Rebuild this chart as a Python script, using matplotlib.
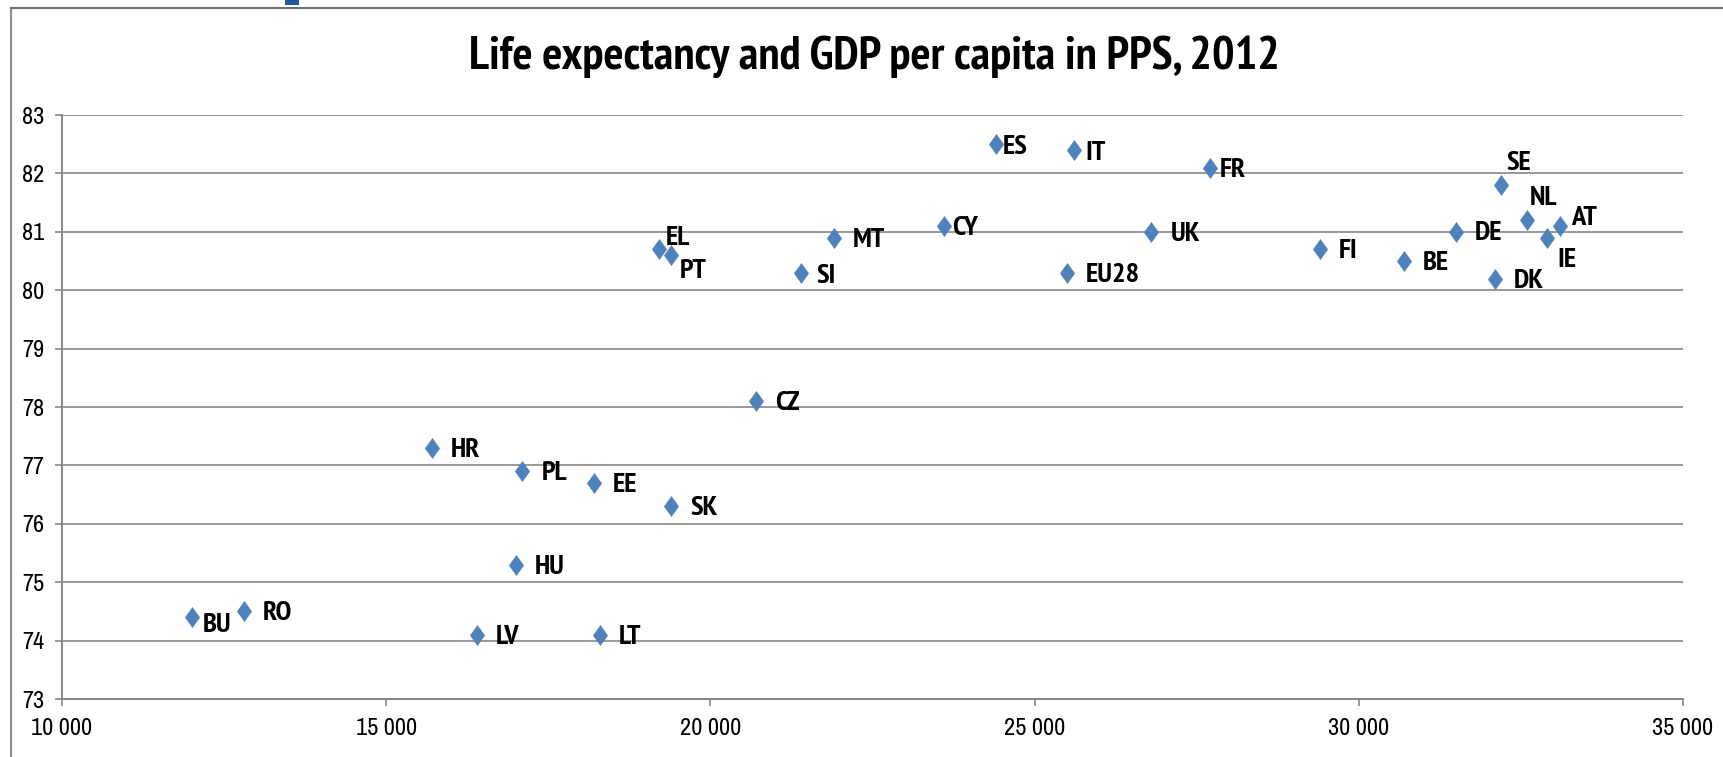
import matplotlib
matplotlib.use("Agg")
import matplotlib.pyplot as plt
from matplotlib.path import Path
from matplotlib.ticker import FuncFormatter, MultipleLocator
from matplotlib import font_manager as fm
import matplotlib.patches as mpatches
import matplotlib.lines as mlines

# ---- data ----
countries = ["BU", "RO", "LV", "LT", "HU", "HR", "PL", "EE", "SK", "CZ",
             "EL", "PT", "SI", "MT", "CY", "ES", "IT", "FR", "UK", "EU28",
             "FI", "BE", "DE", "DK", "SE", "NL", "IE", "AT"]
gdp_pps = [12000, 12800, 16400, 18300, 17000, 15700, 17100, 18200, 19400, 20700,
           19200, 19400, 21400, 21900, 23600, 24400, 25600, 27700, 26800, 25500,
           29400, 30700, 31500, 32100, 32200, 32600, 32900, 33100]
life_exp = [74.4, 74.5, 74.1, 74.1, 75.3, 77.3, 76.9, 76.7, 76.3, 78.1,
            80.7, 80.6, 80.3, 80.9, 81.1, 82.5, 82.4, 82.1, 81.0, 80.3,
            80.7, 80.5, 81.0, 80.2, 81.8, 81.2, 80.9, 81.1]
title = "Life expectancy and GDP per capita in PPS, 2012"

# label offsets (pixels, dx right, dy up) -- styling only
default_off = (19, -2)
label_off = {
    "BU": (11, -8), "RO": (19, -2), "EL": (7, 11), "PT": (8, -16),
    "SI": (15, -3), "CY": (8, -2), "ES": (7, -3), "IT": (12, -3),
    "FR": (10, -2), "SE": (5, 22), "NL": (2, 22), "AT": (11, 8),
    "IE": (11, -22), "DE": (19, -1),
}

# pick an installed narrow sans family with a bold face (Arial Narrow look)
entries = fm.fontManager.ttflist
def has_bold(name):
    return any(f.name == name and (f.weight if isinstance(f.weight, int) else 400) >= 700
               or (f.name == name and f.weight == "bold") for f in entries)
candidates = ["Liberation Sans Narrow", "Arial Narrow", "Archivo Narrow",
              "PT Sans Narrow", "Roboto Condensed", "IBM Plex Sans Condensed"]
narrow_bold = next((c for c in candidates if has_bold(c)), "Liberation Sans")
names = {f.name for f in entries}
narrow_reg = next((c for c in candidates if c in names), "Liberation Sans")
BOLD_FONT = [narrow_bold, "DejaVu Sans"]
REG_FONT = [narrow_reg, "DejaVu Sans"]
plt.rcParams["font.family"] = REG_FONT

W, H = 1724, 757
fig = plt.figure(figsize=(W / 100, H / 100), dpi=100)
fig.patch.set_facecolor("white")

ax = fig.add_axes([62 / W, 1 - 699 / H, (1683 - 62) / W, (699 - 115) / H])

diamond = Path([(0, 1), (0.72, 0), (0, -1), (-0.72, 0), (0, 1)],
               [Path.MOVETO, Path.LINETO, Path.LINETO, Path.LINETO, Path.CLOSEPOLY])
ax.scatter(gdp_pps, life_exp, marker=diamond, s=14.5 ** 2, color="#4F81BD",
           edgecolors="#4F81BD", linewidths=0.3, zorder=3)

for c, x, y in zip(countries, gdp_pps, life_exp):
    dx, dy = label_off.get(c, default_off)
    ax.annotate(c, (x, y), xytext=(dx, dy), textcoords="offset pixels",
                ha="left", va="center", fontsize=20.5, fontweight="bold",
                family=BOLD_FONT, color="black", zorder=4)

ax.set_xlim(10000, 35000)
ax.set_ylim(73, 83)
ax.xaxis.set_major_locator(MultipleLocator(5000))
ax.yaxis.set_major_locator(MultipleLocator(1))
ax.xaxis.set_major_formatter(FuncFormatter(lambda v, p: f"{int(v):,}".replace(",", " ")))
ax.yaxis.set_major_formatter(FuncFormatter(lambda v, p: f"{int(v)}"))

gray = "#878787"
ax.grid(axis="y", color=gray, linewidth=1.2, zorder=0)
ax.set_axisbelow(True)
for s in ["top", "right"]:
    ax.spines[s].set_visible(False)
for s in ["left", "bottom"]:
    ax.spines[s].set_color(gray)
    ax.spines[s].set_linewidth(1.4)
ax.tick_params(axis="both", colors=gray, labelcolor="black", labelsize=17.5,
               length=5, width=1.2, direction="out")
ax.tick_params(axis="y", pad=8)
ax.tick_params(axis="x", pad=9)

fig.text(874 / W, 1 - 57 / H, title, ha="center", va="center",
         fontsize=34, fontweight="bold", family=BOLD_FONT, color="black")

# outer frame (left and top) and small blue mark
fig.add_artist(mlines.Line2D([11 / W, 11 / W], [0, 1 - 8 / H], transform=fig.transFigure,
                             color="#8C8C8C", linewidth=1.5))
fig.add_artist(mlines.Line2D([11 / W, 1], [1 - 8 / H, 1 - 8 / H], transform=fig.transFigure,
                             color="#6E6E6E", linewidth=1.5))
fig.add_artist(mpatches.Rectangle((285 / W, 1 - 5 / H), 14 / W, 5 / H,
                                  transform=fig.transFigure, color="#1F5AA0", linewidth=0))

fig.savefig("out.png", dpi=100, facecolor="white")
